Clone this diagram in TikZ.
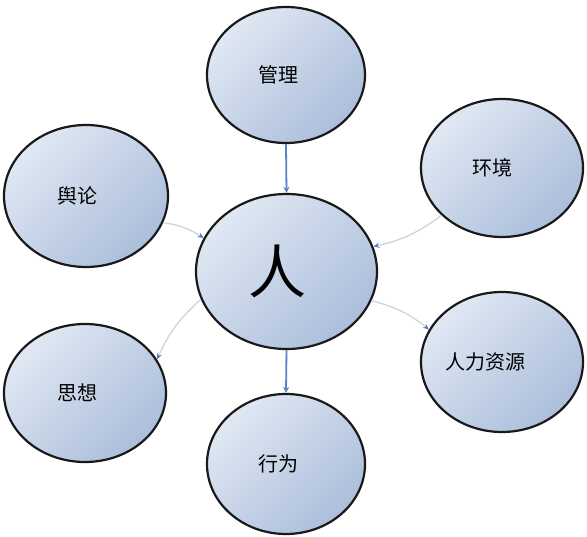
\documentclass[tikz,border=0pt]{standalone}
\usepackage{fontspec}
\newfontfamily\cjk{Noto Sans CJK SC}
\usetikzlibrary{shapes.geometric,arrows.meta}

\definecolor{bubtop}{HTML}{E0E8F3}
\definecolor{bubbot}{HTML}{ABBEDB}
\definecolor{mainblue}{HTML}{5B83C4}
\definecolor{sidegray}{HTML}{CAD4E2}
\definecolor{tipblue}{HTML}{4A7BC4}

\begin{document}
\begin{tikzpicture}[x=1pt, y=-1pt,
  bubble/.style={ellipse, draw=black!90, line width=2.2pt, top color=bubtop, bottom color=bubbot, shading angle=45, inner sep=0pt, font=\cjk\fontsize{20}{20}\selectfont},
  shiftl/.style={execute at begin node={\hspace*{-#1}}},
  mainarrow/.style={draw=mainblue, line width=1.8pt, -{Stealth[length=6pt,width=6pt]}},
  sidearrow/.style={draw=sidegray, line width=1.3pt, -{Stealth[length=6pt,width=5pt,color=tipblue]}}]

\useasboundingbox (0,0) rectangle (587,537);

\node[bubble, minimum width=181pt, minimum height=155pt, shiftl=18pt, font=\cjk\fontsize{58}{58}\selectfont] (ren) at (286.5,271.5) {人};
\node[bubble, minimum width=158pt, minimum height=136pt, shiftl=16pt] (guanli) at (286,75) {管理};
\node[bubble, minimum width=162pt, minimum height=138pt, shiftl=20pt] (huanjing) at (502,168) {环境};
\node[bubble, minimum width=164pt, minimum height=142pt, shiftl=18pt] (yulun) at (86,196) {舆论};
\node[bubble, minimum width=162pt, minimum height=138pt, shiftl=16pt] (sixiang) at (85,393) {思想};
\node[bubble, minimum width=158pt, minimum height=140pt, shiftl=16pt] (xingwei) at (286,464) {行为};
\node[bubble, minimum width=162pt, minimum height=140pt, shiftl=34pt] (renli) at (502,362) {人力资源};

\draw[mainarrow] (guanli.south) -- (ren.north);
\draw[mainarrow] (ren.south) -- (xingwei.north);
\draw[sidearrow] (yulun.-19) to[bend left=12] (ren.158);
\draw[sidearrow] (huanjing.218) to[bend left=12] (ren.16);
\draw[sidearrow] (ren.198) to[bend right=12] (sixiang.25);
\draw[sidearrow] (ren.-19) to[bend left=12] (renli.156);

\end{tikzpicture}
\end{document}
